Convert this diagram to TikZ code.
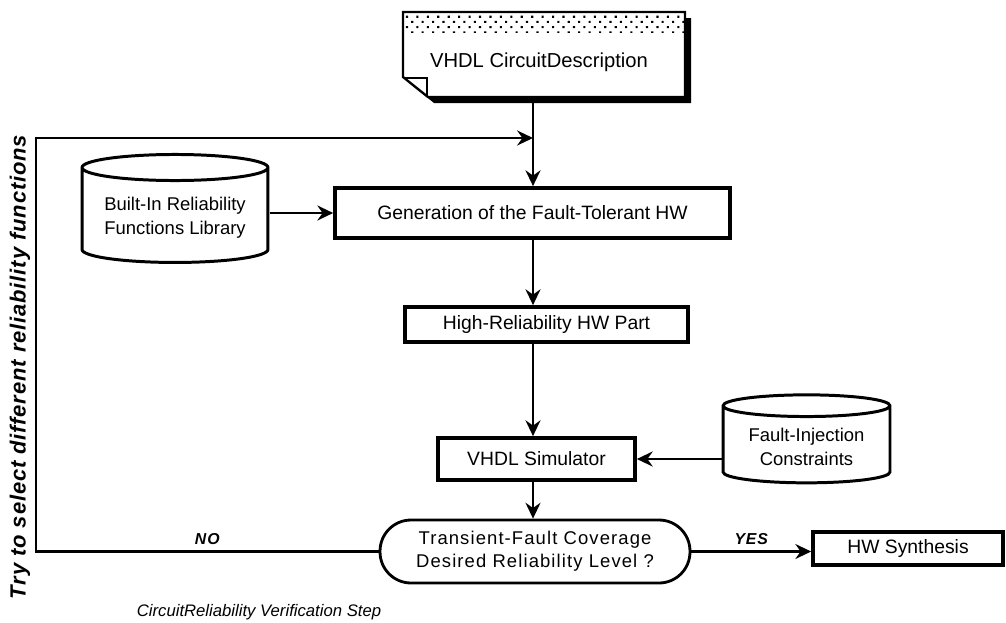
\documentclass[tikz,border=0pt]{standalone}
\usepackage{fontspec}
\setmainfont{Liberation Sans}
\newfontfamily\spacedsans[LetterSpace=6]{Liberation Sans}
\newfontfamily\widesans[LetterSpace=4]{Liberation Sans}
\usetikzlibrary{arrows.meta, positioning, calc, shapes.geometric, patterns.meta}
\usepackage{xcolor}
\definecolor{flowink}{HTML}{000000}

\begin{document}
\begin{tikzpicture}[
    x=0.02cm, y=-0.02cm,
    stepbox/.style={
        rectangle,
        draw=flowink,
        line width=2.1pt,
        fill=white,
        font=\fontsize{11}{13}\selectfont,
        inner sep=2pt
    },
    store/.style={
        cylinder,
        shape border rotate=90,
        aspect=0.17,
        draw=flowink,
        line width=1.7pt,
        fill=white,
        align=center,
        font=\fontsize{10.5}{13.5}\selectfont
    },
    query/.style={
        rectangle,
        rounded corners=0.62cm,
        draw=flowink,
        line width=1.6pt,
        minimum width=6.2cm,
        minimum height=1.26cm,
        align=center,
        font=\spacedsans\fontsize{10.5}{13}\selectfont
    },
    flow/.style={
        ->,
        >={Stealth[length=9pt, width=8.5pt, inset=3pt]},
        line width=1.5pt,
        draw=flowink
    },
    tag/.style={
        font=\spacedsans\bfseries\itshape\fontsize{9}{11}\selectfont,
        inner sep=3pt
    }
]
\useasboundingbox (0,0) rectangle (1006,622);

% Input document
\fill[flowink] (409,18) -- (691,18) -- (691,103) -- (434,103) -- (409,83) -- cycle;
\fill[white] (403,12) -- (685,12) -- (685,97) -- (428,97) -- (403,77) -- cycle;
\fill[pattern={Dots[distance=4.2pt, radius=0.85pt, angle=45]}, pattern color=flowink] (403,12) rectangle (685,32);
\draw[line width=1.3pt] (403,12) -- (685,12) -- (685,97) -- (428,97) -- (403,77) -- cycle;
\draw[line width=1.3pt] (404,78) -- (427,78) -- (427,96);
\node[font=\fontsize{11.5}{13}\selectfont] (doc) at (539,62) {VHDL CircuitDescription};
\coordinate (docout) at (533,103);

% Main steps
\node[stepbox, minimum width=7.9cm, minimum height=1.0cm] (gen) at (532.5,213) {Generation of the Fault-Tolerant HW};
\node[stepbox, minimum width=5.66cm, minimum height=0.7cm] (hwpart) at (546.5,324.5) {High-Reliability HW Part};
\node[stepbox, minimum width=3.94cm, minimum height=0.84cm] (sim) at (536.5,459) {VHDL Simulator};
\node[query] (decide) at (535,551.5) {Transient-Fault Coverage\\Desired Reliability Level ?};
\node[stepbox, minimum width=3.8cm, minimum height=0.66cm] (synth) at (908,548.5) {HW Synthesis};

% Libraries
\node[store, minimum width=3.72cm, minimum height=2.16cm] (lib) at (175,218) {Built-In Reliability\\Functions Library};
\node[store, minimum width=3.34cm, minimum height=1.76cm] (fault) at (806.5,447) {Fault-Injection\\Constraints};

% Flow
\draw[flow] (docout) -- (gen.north -| docout);
\draw[flow] (gen.south -| docout) -- (hwpart.north -| docout);
\draw[flow] (hwpart.south -| docout) -- (sim.north -| docout);
\draw[flow] (sim.south -| docout) -- (decide.north -| docout);
\draw[flow] (lib.east |- gen.west) -- (gen.west);
\draw[flow] (fault.west |- sim.east) -- (sim.east);
\draw[flow] (decide.east) -- node[tag, above] {YES} (synth.west |- decide.east);

% Feedback loop
\coordinate (fbcorner) at (36,138);
\coordinate (join) at (533,138);
\draw[flow] (decide.west) -- node[tag, above] {NO} (decide.west -| fbcorner) -- (fbcorner) -- (join);
\node[font=\widesans\bfseries\itshape\fontsize{12.5}{15}\selectfont, rotate=90] (retry) at (20,367) {Try to select different reliability functions};

% Caption
\node[font=\itshape\fontsize{9.5}{11}\selectfont] (caption) at (259,612) {CircuitReliability Verification Step};

\end{tikzpicture}
\end{document}
